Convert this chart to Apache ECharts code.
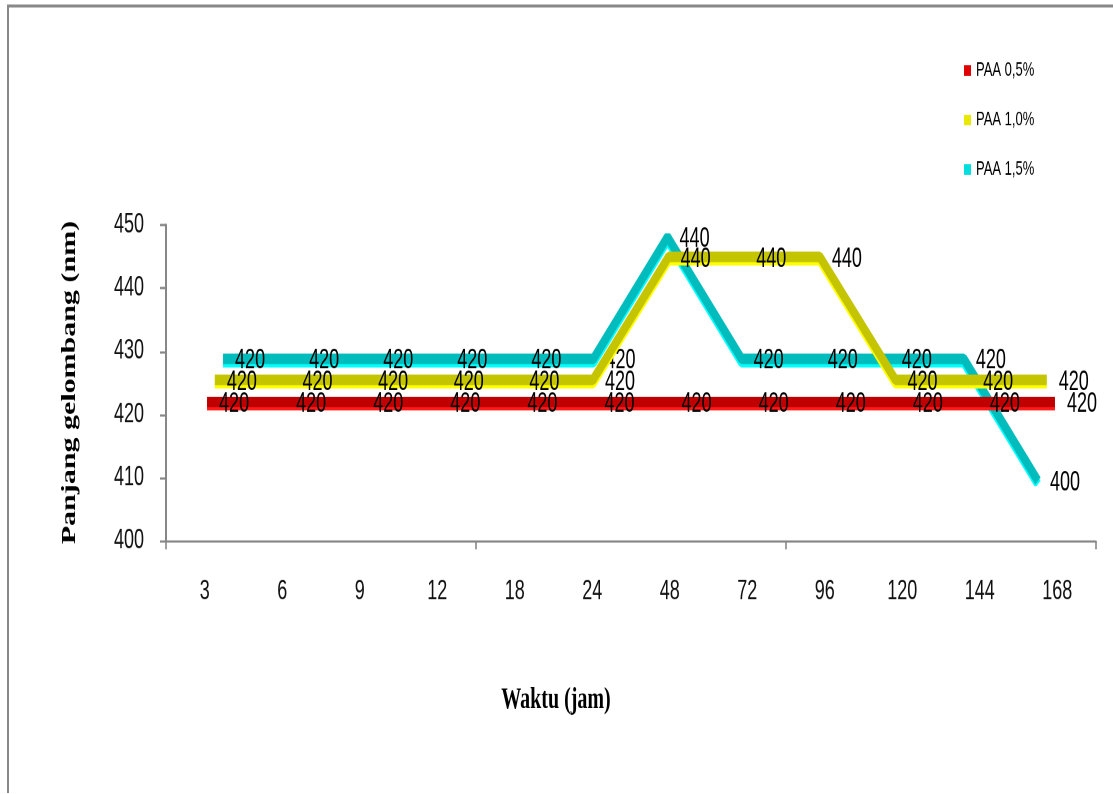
<!DOCTYPE html>
<html>
<head>
<meta charset="utf-8">
<script src="https://cdn.jsdelivr.net/npm/echarts@6/dist/echarts.min.js"></script>
<style>
html,body{margin:0;padding:0;background:#fff;}
#wrap{width:1113px;height:794px;position:relative;overflow:hidden;}
#c{position:absolute;left:0;top:0;width:1113px;height:529.333px;transform:scaleY(1.5);transform-origin:0 0;}
</style>
</head>
<body>
<div id="wrap"><div id="c"></div></div>
<script>
// Data
const categories = ['3','6','9','12','18','24','48','72','96','120','144','168'];
const seriesNames = ['PAA 0,5%','PAA 1,0%','PAA 1,5%'];
const paa05 = [420,420,420,420,420,420,420,420,420,420,420,420];
const paa10 = [420,420,420,420,420,420,440,440,440,420,420,420];
const paa15 = [420,420,420,420,420,420,440,420,420,420,420,400];
const yMin = 400, yMax = 450, yStep = 10;
const xTitle = 'Waktu (jam)';
const yTitle = 'Panjang gelombang (nm)';

// Styles (3D depth simulated by shifted grids)
const FONT = "'Liberation Sans', Arial, sans-serif";
const SERIF = "'Liberation Serif', 'Times New Roman', serif";
const depthGrids = [
  {left:168.5, top:142.4, width:925,   height:209.3},
  {left:177,   top:130.3, width:907.6, height:205},
  {left:186,   top:117.3, width:889,   height:203.3}
];
const dark = ['#c00000','#c4c400','#00bcbc'];
const bright = ['#ff1a1a','#ffff00','#00ffff'];
const legendCol = ['#e00000','#e8e800','#00dede'];
const values = [paa05, paa10, paa15];

const chart = echarts.init(document.getElementById('c'), null, {renderer:'canvas', devicePixelRatio:2});

const grids = [{left:166, top:150, width:930, height:210.7}].concat(depthGrids);
const xAxes = grids.map((g,i)=>({
  type:'category', gridIndex:i, data:categories, boundaryGap:true, show:i===0,
  axisLine:{lineStyle:{color:'#878787', width:1.6}},
  axisTick:{show:true, interval:function(idx){return idx % 4 === 0;}, length:5.5, lineStyle:{color:'#878787', width:1.6}},
  axisLabel:{interval:0, margin:25, fontSize:18, fontFamily:FONT, color:'#111'}
}));
const yAxes = grids.map((g,i)=>({
  type:'value', gridIndex:i, min:yMin, max:yMax, interval:yStep, show:i===0,
  splitLine:{show:false},
  axisLine:{show:true, lineStyle:{color:'#878787', width:2}},
  axisTick:{show:true, length:6, lineStyle:{color:'#878787', width:1.5}},
  axisLabel:{margin:22, fontSize:18, fontFamily:FONT, color:'#111'}
}));

const series = values.map((v,i)=>({
  name:seriesNames[i], type:'line', data:v,
  xAxisIndex:i+1, yAxisIndex:i+1,
  z: 10 - i,
  symbol:'circle', symbolSize:0, showSymbol:true,
  itemStyle:{color:legendCol[i]},
  lineStyle:{color:dark[i], width:7, shadowColor:bright[i], shadowOffsetY:2.2, shadowBlur:0},
  label:{show:true, position:'right', distance:12, offset:[0,1.5], fontSize:18, fontFamily:FONT, color:'#000'},
  emphasis:{disabled:true}
}));

chart.setOption({
  animation:false,
  backgroundColor:'#fff',
  grid:grids,
  xAxis:xAxes,
  yAxis:yAxes,
  legend:{
    orient:'vertical', left:959, top:35, icon:'rect', itemWidth:7, itemHeight:7, itemGap:19,
    data:seriesNames,
    textStyle:{fontSize:13, fontFamily:FONT, color:'#000', lineHeight:14}
  },
  series:series,
  graphic:[
    {type:'rect', shape:{x:8, y:4, width:1300, height:700}, style:{fill:'none', stroke:'#888', lineWidth:2}, silent:true},
    {type:'text', x:556, y:466.7, style:{text:xTitle, font:'bold 20px '+SERIF, fill:'#000', textAlign:'center', textVerticalAlign:'middle'}},
    {type:'text', x:70, y:255, rotation:Math.PI/2, style:{text:yTitle, font:'bold 20px '+SERIF, fill:'#000', textAlign:'center', textVerticalAlign:'middle'}}
  ]
});
</script>
</body>
</html>
